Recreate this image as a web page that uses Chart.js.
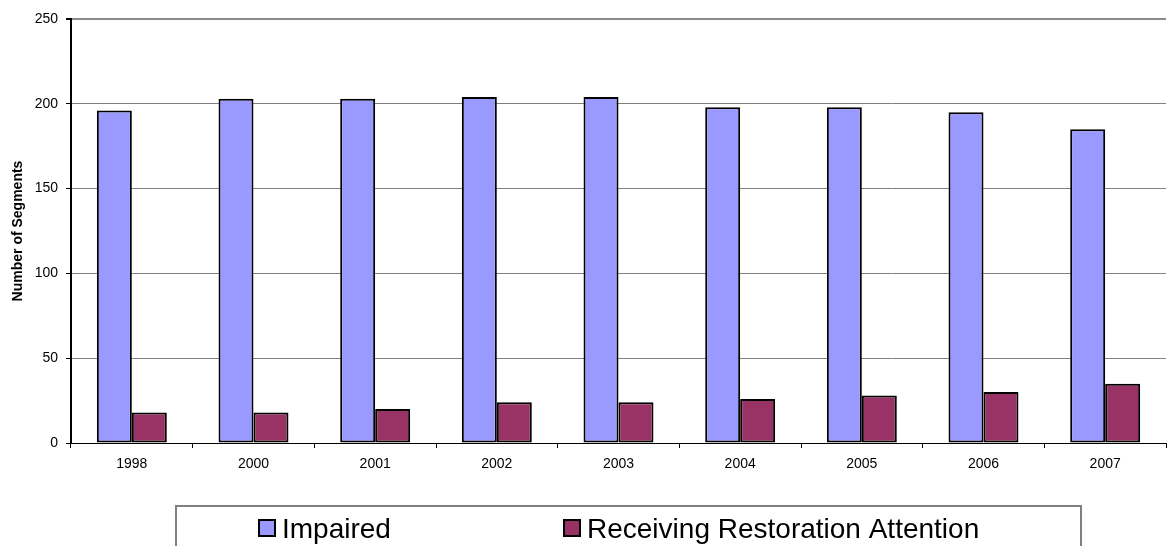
<!DOCTYPE html>
<html>
<head>
<meta charset="utf-8">
<script src="https://cdn.jsdelivr.net/npm/chart.js@4/dist/chart.umd.min.js"></script>
<style>
  html, body { margin: 0; padding: 0; background: #ffffff; }
  #wrap { width: 1167px; height: 546px; }
</style>
</head>
<body>
<div id="wrap"><canvas id="chart" width="1167" height="546"></canvas></div>
<script>
// Segment counts per assessment year
const years = ['1998', '2000', '2001', '2002', '2003', '2004', '2005', '2006', '2007'];
const impaired = [196, 203, 203, 204, 204, 198, 198, 195, 185];
const restoration = [18, 18, 20, 24, 24, 26, 28, 30, 35];
const seriesNames = ['Impaired', 'Receiving Restoration Attention'];
const yTicks = [0, 50, 100, 150, 200, 250];

// Boxed legend drawn beneath the plot
const boxedLegend = {
  id: 'boxedLegend',
  afterDraw(chart) {
    const ctx = chart.ctx;
    ctx.save();
    ctx.strokeStyle = '#808080';
    ctx.lineWidth = 2;
    ctx.strokeRect(176, 506, 905, 60);
    const itemX = [258, 563];
    chart.data.datasets.forEach((ds, i) => {
      const x = itemX[i];
      ctx.fillStyle = ds.backgroundColor;
      ctx.fillRect(x + 1, 520, 16, 16);
      ctx.strokeStyle = '#000000';
      ctx.lineWidth = 2;
      ctx.strokeRect(x + 1, 520, 16, 16);
      ctx.fillStyle = '#000000';
      ctx.font = '28px "Liberation Sans", Arial, sans-serif';
      ctx.textBaseline = 'alphabetic';
      ctx.fillText(ds.label, x + 24, 538);
    });
    ctx.restore();
  }
};

const axisFont = { family: '"Liberation Sans", Arial, sans-serif', size: 14 };

new Chart(document.getElementById('chart'), {
  type: 'bar',
  data: {
    labels: years,
    datasets: [
      {
        label: seriesNames[0],
        data: impaired,
        backgroundColor: '#9999FF',
        borderColor: '#000000',
        borderWidth: 2,
        borderSkipped: false
      },
      {
        label: seriesNames[1],
        data: restoration,
        backgroundColor: '#993366',
        borderColor: '#000000',
        borderWidth: 2,
        borderSkipped: false
      }
    ]
  },
  options: {
    responsive: false,
    animation: false,
    devicePixelRatio: 1,
    layout: { padding: { top: 19, right: 1, left: 0, bottom: 0 } },
    datasets: {
      bar: { categoryPercentage: 0.575, barPercentage: 1.0 }
    },
    plugins: {
      legend: { display: false },
      tooltip: { enabled: false }
    },
    scales: {
      x: {
        offset: true,
        afterFit(scale) { scale.height = 103; },
        grid: {
          offset: true,
          drawOnChartArea: false,
          drawTicks: true,
          tickLength: 5,
          color: '#000000'
        },
        border: { color: '#000000', width: 1 },
        ticks: {
          color: '#000000',
          padding: 8,
          maxRotation: 0,
          font: axisFont
        }
      },
      y: {
        min: 0,
        max: 250,
        afterFit(scale) { scale.width = 71; },
        afterBuildTicks(scale) { scale.ticks = yTicks.map(v => ({ value: v })); },
        grid: {
          color: (c) => c.tick && c.tick.value === 250 ? '#8a8a8a' : '#808080',
          lineWidth: (c) => c.tick && c.tick.value === 250 ? 2 : 1,
          tickLength: 5,
          tickColor: '#000000'
        },
        border: { color: '#000000', width: 2 },
        ticks: {
          color: '#000000',
          padding: 8,
          font: axisFont
        },
        title: {
          display: true,
          text: 'Number of Segments',
          color: '#000000',
          padding: { top: 10, bottom: 4 },
          font: { family: '"Liberation Sans", Arial, sans-serif', size: 14, weight: 'bold' }
        }
      }
    }
  },
  plugins: [boxedLegend]
});
</script>
</body>
</html>
